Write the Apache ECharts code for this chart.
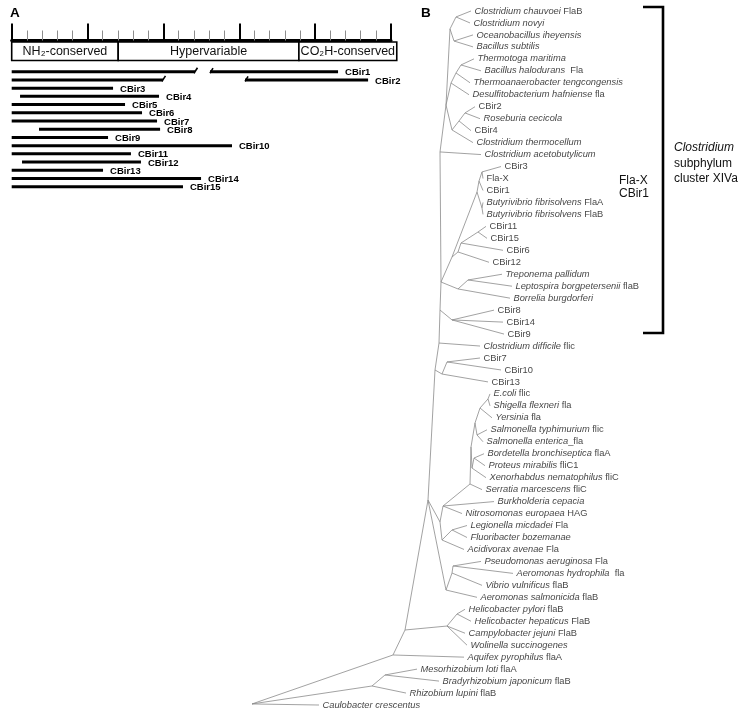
<!DOCTYPE html>
<html><head><meta charset="utf-8">
<script src="https://cdn.jsdelivr.net/npm/echarts@6/dist/echarts.min.js"></script>
<style>html,body{margin:0;padding:0;background:#fff}#c{width:745px;height:714px}</style>
</head><body><div id="c"></div>
<script>
const FONT = '"Liberation Sans", Arial, Helvetica, sans-serif';

// ---------- Panel A data ----------
const rulerMax = 25;
const domainNames = ['NH\u2082-conserved', 'Hypervariable', 'CO\u2082H-conserved'];
const domainStart = [0, 7.02, 18.93];
const domainEnd = [7.02, 18.93, 25.38];
const clones = ['CBir1','CBir2','CBir3','CBir4','CBir5','CBir6','CBir7','CBir8','CBir9','CBir10','CBir11','CBir12','CBir13','CBir14','CBir15'];
const fragStarts = [[0,13.07],[0,15.38],[0],[0.55],[0],[0],[0],[1.80],[0],[0],[0],[0.68],[0],[0],[0]];
const fragEnds   = [[12.08,21.51],[9.97,23.49],[6.68],[9.71],[7.47],[8.59],[9.58],[9.78],[6.35],[14.52],[7.86],[8.52],[6.02],[12.48],[11.29]];

// ---------- Panel B data (phylogenetic tree) ----------
const leafLabels = [
 '{i|Clostridium chauvoei} FlaB','{i|Clostridium novyi}','{i|Oceanobacillus iheyensis}','{i|Bacillus subtilis}',
 '{i|Thermotoga maritima}','{i|Bacillus halodurans}  Fla','{i|Thermoanaerobacter tengcongensis}','{i|Desulfitobacterium hafniense} fla',
 'CBir2','{i|Roseburia cecicola}','CBir4','{i|Clostridium thermocellum}','{i|Clostridium acetobutylicum}',
 'CBir3','Fla-X','CBir1','{i|Butyrivibrio fibrisolvens} FlaA','{i|Butyrivibrio fibrisolvens} FlaB',
 'CBir11','CBir15','CBir6','CBir12','{i|Treponema pallidum}','{i|Leptospira borgpetersenii} flaB','{i|Borrelia burgdorferi}',
 'CBir8','CBir14','CBir9','{i|Clostridium difficile} flic','CBir7','CBir10','CBir13',
 '{i|E.coli} flic','{i|Shigella flexneri} fla','{i|Yersinia} fla','{i|Salmonella typhimurium} flic','{i|Salmonella enterica}_fla',
 '{i|Bordetella bronchiseptica} flaA','{i|Proteus mirabilis} fliC1','{i|Xenorhabdus nematophilus} fliC','{i|Serratia marcescens} fliC',
 '{i|Burkholderia cepacia}','{i|Nitrosomonas europaea} HAG','{i|Legionella micdadei} Fla','{i|Fluoribacter bozemanae}','{i|Acidivorax avenae} Fla',
 '{i|Pseudomonas aeruginosa} Fla','{i|Aeromonas hydrophila}  fla','{i|Vibrio vulnificus} flaB','{i|Aeromonas salmonicida} flaB',
 '{i|Helicobacter pylori} flaB','{i|Helicobacter hepaticus} FlaB','{i|Campylobacter jejuni} FlaB','{i|Wolinella succinogenes}',
 '{i|Aquifex pyrophilus} flaA','{i|Mesorhizobium loti} flaA','{i|Bradyrhizobium japonicum} flaB','{i|Rhizobium lupini} flaB','{i|Caulobacter crescentus}'
];
const leafDist = [2.19,2.18,2.21,2.21,2.22,2.29,2.18,2.17,2.23,2.28,2.19,2.21,2.29,
 2.49,2.31,2.31,2.31,2.31,2.34,2.35,2.51,2.37,2.50,2.60,2.58,2.42,2.51,2.52,2.28,2.28,2.49,2.36,
 2.38,2.38,2.40,2.35,2.31,2.32,2.33,2.34,2.30,2.42,2.10,2.15,2.15,2.12,2.29,2.61,2.30,2.25,
 2.13,2.19,2.13,2.15,2.12,1.65,1.87,1.54,0.67];
const leafParent = ['a','a','b','b','c','c','d','e','f','f','g','h','Z2',
 'i','i','j','k','k','n','n','o','p','q','q','r','u','u','u','Z5','W1','W1','W',
 'g1','g1','g2','g3','g3','g5','g5','g6','g8','B0','B0','L1','L1','B2','Pa1','Pa1','Pa2','Pa3',
 'H1','H1','H','H','Z9','R2','R2','R1','root'];
const nodeIds    = ['a','b','ab','c','d','e','f','g','h','Z1','Z2','i','j','k','l','n','o','p','m','q','r','Z3','u','Z4','Z5','W1','W','Z6',
 'g1','g2','g3','g4','g5','g6','g7','g8','B0','L1','B2','B3','Pa1','Pa2','Pa3','Z7','H1','H','Z8','Z9','R2','R1','root'];
const nodeDist   = [2.04,2.02,1.98,2.09,2.04,1.99,2.13,2.07,2.00,1.94,1.88,2.30,2.27,2.30,2.25,2.26,2.09,2.06,2.00,2.16,2.06,1.89,2.00,1.88,1.87,1.95,1.90,1.83,
 2.36,2.28,2.25,2.23,2.22,2.20,2.19,2.18,1.91,2.00,1.90,1.88,2.01,2.00,1.94,1.76,2.05,1.95,1.53,1.41,1.33,1.20,0];
const nodeRow    = [1.50,3.51,2.50,5.51,6.18,7.02,9.52,10.19,10.94,8.86,12.78,14.45,15.21,17.46,16.13,19.47,20.39,21.14,21.56,23.48,24.23,23.65,26.82,25.99,28.75,30.33,31.34,31.00,
 33.42,34.18,36.43,35.43,38.36,39.20,37.44,40.53,42.37,44.37,45.21,43.70,47.38,47.97,49.39,41.87,51.39,52.40,52.73,54.82,56.49,57.41,58.91];
const nodeParent = ['ab','ab','Z1','d','e','Z1','g','h','Z1','Z2','Z3','j','l','l','m','o','p','m','Z3','r','Z3','Z4','Z4','Z5','Z6','W','Z6','Z7',
 'g2','g4','g4','g7','g6','g7','g8','B0','B3','B2','B3','Z7','Pa2','Pa3','Z7','Z8','H','Z8','Z9','root','R1','root',null];

// ---------- build tree geometry from the data ----------
const pos = {};
nodeIds.forEach((id, k) => { pos[id] = [nodeDist[k], nodeRow[k]]; });
const branches = [];
leafDist.forEach((d, k) => { branches.push({ coords: [pos[leafParent[k]], [d, k + 1]] }); });
nodeIds.forEach((id, k) => { if (nodeParent[k]) branches.push({ coords: [pos[nodeParent[k]], pos[id]] }); });

const chart = echarts.init(document.getElementById('c'), null, { renderer: 'canvas' });

const hidden = { show: false };
const option = {
  backgroundColor: '#fff',
  animation: false,
  textStyle: { fontFamily: FONT },
  grid: [
    { left: 11.7, top: 22, width: 379.3, height: 18.5 },      // ruler
    { left: 11.7, top: 42, width: 379.3, height: 18.5 },      // domain box
    { left: 11.7, top: 67.6, width: 379.3, height: 123.2 },   // clone bars
    { left: 252, top: 5, width: 490, height: 706 }            // tree
  ],
  xAxis: [
    { gridIndex: 0, type: 'value', min: 0, max: rulerMax, interval: 5,
      axisLine: { show: true, onZero: false, lineStyle: { color: '#000', width: 3 } },
      axisTick: { show: true, inside: true, length: 17, lineStyle: { color: '#000', width: 2 } },
      minorTick: { show: true, splitNumber: 5, length: 10, lineStyle: { color: '#8c8c8c', width: 1 } },
      axisLabel: hidden, splitLine: hidden, minorSplitLine: hidden },
    { gridIndex: 1, type: 'value', min: 0, max: rulerMax, show: false },
    { gridIndex: 2, type: 'value', min: 0, max: rulerMax, show: false },
    { gridIndex: 3, type: 'value', min: 0, max: 4.9, show: false }
  ],
  yAxis: [
    { gridIndex: 0, type: 'value', min: 0, max: 1, show: false },
    { gridIndex: 1, type: 'value', min: 0, max: 1, show: false },
    { gridIndex: 2, type: 'value', min: -0.5, max: clones.length - 0.5, inverse: true, show: false },
    { gridIndex: 3, type: 'value', min: 0.5, max: leafLabels.length + 0.5, inverse: true, show: false }
  ],
  series: [
    { // domain boxes
      type: 'custom', xAxisIndex: 1, yAxisIndex: 1, silent: true,
      data: domainNames.map((n, k) => [domainStart[k], domainEnd[k], k]),
      renderItem: (params, api) => {
        const p1 = api.coord([api.value(0), 1]);
        const p2 = api.coord([api.value(1), 0]);
        const k = api.value(2);
        return { type: 'group', children: [
          { type: 'rect', shape: { x: p1[0], y: p1[1], width: p2[0] - p1[0], height: p2[1] - p1[1] },
            style: { fill: '#fff', stroke: '#000', lineWidth: 1.6 } },
          { type: 'text', x: (p1[0] + p2[0]) / 2, y: (p1[1] + p2[1]) / 2 + 0.5,
            style: { text: domainNames[k], fontSize: 12.5, fontFamily: FONT, fill: '#111', align: 'center', verticalAlign: 'middle' } }
        ]};
      }
    },
    { // clone fragments
      type: 'custom', xAxisIndex: 2, yAxisIndex: 2, silent: true,
      data: clones.map((c, i) => [i]),
      renderItem: (params, api) => {
        const i = api.value(0);
        const kids = [];
        const st = fragStarts[i], en = fragEnds[i];
        for (let k = 0; k < st.length; k++) {
          const a = api.coord([st[k], i]), b = api.coord([en[k], i]);
          kids.push({ type: 'rect', shape: { x: a[0], y: a[1] - 1.5, width: b[0] - a[0], height: 3 }, style: { fill: '#000' } });
          if (k < st.length - 1) {
            kids.push({ type: 'line', shape: { x1: b[0] - 1, y1: b[1] + 1.5, x2: b[0] + 2.5, y2: b[1] - 4 }, style: { stroke: '#000', lineWidth: 1.6 } });
          }
          if (k > 0) {
            kids.push({ type: 'line', shape: { x1: a[0], y1: a[1] + 1.5, x2: a[0] + 3, y2: a[1] - 3.5 }, style: { stroke: '#000', lineWidth: 1.6 } });
          }
        }
        const e = api.coord([en[en.length - 1], i]);
        kids.push({ type: 'text', x: e[0] + 7, y: e[1] + 1,
          style: { text: clones[i], fontSize: 9.5, fontWeight: 'bold', fontFamily: FONT, fill: '#000', verticalAlign: 'middle', align: 'left' } });
        return { type: 'group', children: kids };
      }
    },
    { // tree branches
      type: 'lines', coordinateSystem: 'cartesian2d', xAxisIndex: 3, yAxisIndex: 3, silent: true,
      polyline: false, data: branches,
      lineStyle: { color: '#8a8a8a', width: 0.8, opacity: 1, curveness: 0 }
    },
    { // leaf labels
      type: 'scatter', xAxisIndex: 3, yAxisIndex: 3, silent: true,
      symbolSize: 1, itemStyle: { color: 'rgba(0,0,0,0)' },
      data: leafDist.map((d, k) => [d, k + 1]),
      label: { show: true, position: 'right', distance: 3,
        formatter: (p) => leafLabels[p.dataIndex],
        fontSize: 9.3, fontFamily: FONT, color: '#111',
        rich: { i: { fontStyle: 'italic', fontSize: 9.3, fontFamily: FONT, color: '#111' } } }
    }
  ],
  graphic: [
    { type: 'text', left: 10, top: 6, style: { text: 'A', fontSize: 13.5, fontWeight: 'bold', fontFamily: FONT, fill: '#000' } },
    { type: 'text', left: 421, top: 6, style: { text: 'B', fontSize: 13.5, fontWeight: 'bold', fontFamily: FONT, fill: '#000' } },
    { type: 'polyline', shape: { points: [[643, 7], [663, 7], [663, 333], [643, 333]] }, style: { stroke: '#000', lineWidth: 2.6, fill: null } },
    { type: 'text', left: 619, top: 174, style: { text: 'Fla-X\nCBir1', fontSize: 12, lineHeight: 13, fontFamily: FONT, fill: '#111' } },
    { type: 'text', left: 674, top: 140, style: { text: '{i|Clostridium}\nsubphylum\ncluster XIVa', fontSize: 12, lineHeight: 15.5, fontFamily: FONT, fill: '#111',
        rich: { i: { fontStyle: 'italic', fontSize: 12, fontFamily: FONT, fill: '#111', lineHeight: 15.5 } } } }
  ]
};
chart.setOption(option);
</script></body></html>
